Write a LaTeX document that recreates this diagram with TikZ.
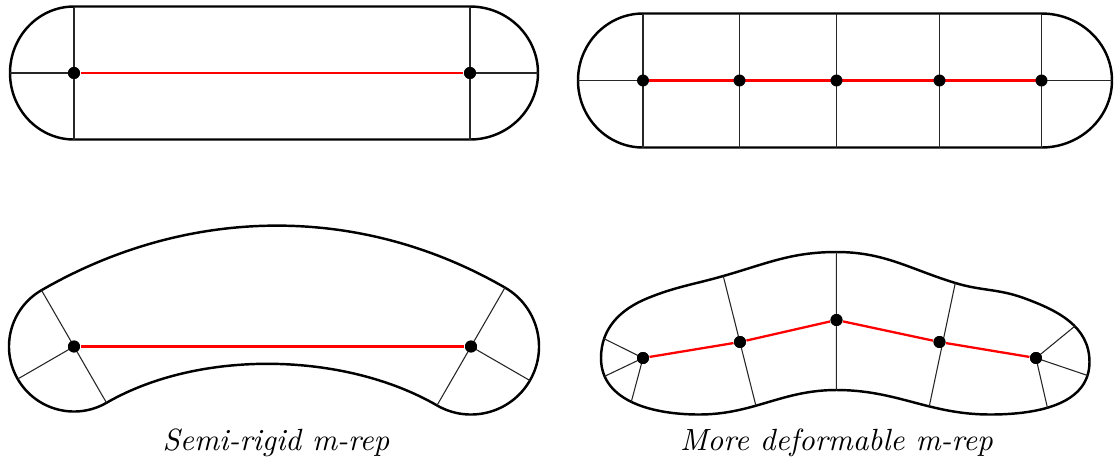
\documentclass[tikz,border=0pt]{standalone}
\usetikzlibrary{calc,intersections}
\begin{document}
\begin{tikzpicture}[x=0.326pt,y=0.326pt,
  outline/.style={line width=0.8pt,black},
  spoke/.style={line width=0.35pt,black!85},
  medial/.style={line width=0.75pt,red},
  atom/.style={circle,fill=black,inner sep=0pt,minimum size=3.9pt},
  caption/.style={font=\itshape}]
\useasboundingbox (0,0) rectangle (1115,-463);

% ---------- top left: semi-rigid straight ----------
\node[atom] (a1) at (74,-73) {};
\node[atom] (a2) at (470,-73) {};
\coordinate (a1t) at (74,-6.5);  \coordinate (a1b) at (74,-139.5);
\coordinate (a2t) at (470,-6.5); \coordinate (a2b) at (470,-139.5);
\coordinate (a1l) at (10,-73);   \coordinate (a2r) at (538,-73);
\draw[outline] (a1t) -- (a2t) arc[start angle=90,end angle=-90,x radius=68,y radius=66.5]
  -- (a1b) arc[start angle=270,end angle=90,x radius=64,y radius=66.5] -- cycle;
\draw[spoke] (a1t) -- (a1b) (a2t) -- (a2b) (a1l) -- (a1.center) (a2.center) -- (a2r);
\draw[medial] (a1) -- (a2);
\node[atom] at (a1) {}; \node[atom] at (a2) {};

% ---------- top right: deformable straight ----------
\foreach \i/\x in {1/643,2/739.5,3/836.5,4/939.5,5/1041.5}{
  \coordinate (b\i t) at (\x,-13.5);
  \coordinate (b\i b) at (\x,-147.5);
}
\coordinate (b1l) at (578,-80.5); \coordinate (b5r) at (1112,-80.5);
\draw[outline] (b1t) -- (b5t) arc[start angle=90,end angle=-90,x radius=70.5,y radius=67]
  -- (b1b) arc[start angle=270,end angle=90,x radius=65,y radius=67] -- cycle;
\foreach \i in {1,...,5}{ \draw[spoke] (b\i t) -- (b\i b); }
\draw[spoke] (b1l) -- (643,-80.5) (1041.5,-80.5) -- (b5r);
\draw[medial] (643,-80.5) -- (1041.5,-80.5);
\foreach \i/\x in {1/643,2/739.5,3/836.5,4/939.5,5/1041.5}{
  \node[atom] (b\i) at (\x,-80.5) {};
}

% ---------- bottom left: semi-rigid bent ----------
\node[atom] (c1) at (74,-346.5) {};
\node[atom] (c2) at (471,-346.5) {};
\coordinate (c1u) at ($(c1.center)+(120:65)$);
\coordinate (c1w) at ($(c1.center)+(210:65)$);
\coordinate (c1d) at ($(c1.center)+(300:65)$);
\coordinate (c2u) at ($(c2.center)+(60:68)$);
\coordinate (c2e) at ($(c2.center)+(-30:68)$);
\coordinate (c2d) at ($(c2.center)+(240:68)$);
\draw[outline] (c1u) to[out=30,in=150,looseness=0.93] (c2u)
  arc[start angle=60,end angle=-120,radius=68]
  to[out=150,in=30,looseness=0.83] (c1d)
  arc[start angle=300,end angle=120,radius=65] -- cycle;
\draw[spoke] (c1.center) -- (c1u) (c1.center) -- (c1w) (c1.center) -- (c1d)
  (c2.center) -- (c2u) (c2.center) -- (c2e) (c2.center) -- (c2d);
\draw[medial] (c1) -- (c2);
\node[atom] at (c1) {}; \node[atom] at (c2) {};

% ---------- bottom right: deformable bent ----------
\node[atom] (d1) at (643,-358) {};
\node[atom] (d2) at (740,-342) {};
\node[atom] (d3) at (836.5,-320) {};
\node[atom] (d4) at (939.5,-342) {};
\node[atom] (d5) at (1036,-358) {};
\draw[outline,name path=body] (601,-358) to[out=90,in=202] (648,-298)
  to[out=22,in=196] (723.3,-276)
  to[out=16,in=180] (836.5,-252)
  to[out=0,in=163] (955.4,-283)
  to[out=-17,in=160] (1023.7,-298)
  to[out=-20,in=90] (1089.5,-362)
  to[out=-90,in=0] (990,-414.5)
  to[out=180,in=0] (836.5,-390)
  to[out=180,in=0] (699,-414.5)
  to[out=180,in=270] (601,-358);
\foreach \n/\a/\k in {d1/153.7/1,d1/205.4/2,d1/255/3,
                      d2/104.2/1,d2/284/2,d3/90/1,d3/270/2,
                      d4/75/1,d4/261/2,
                      d5/39.3/1,d5/-18.7/2,d5/-77/3}{
  \path[name path=ray] (\n.center) -- ++(\a:120);
  \path[name intersections={of=body and ray,by={\n e\k}}];
}
\draw[spoke] (d1.center) -- (d1e1) (d1.center) -- (d1e2) (d1.center) -- (d1e3)
  (d2e1) -- (d2e2) (d3e1) -- (d3e2) (d4e1) -- (d4e2)
  (d5.center) -- (d5e1) (d5.center) -- (d5e2) (d5.center) -- (d5e3);
\draw[medial] (d1) -- (d2) -- (d3) -- (d4) -- (d5);
\foreach \i in {1,...,5}{ \node[atom] at (d\i) {}; }

% ---------- captions ----------
\node[caption] (cap1) at (276,-443) {Semi-rigid m-rep};
\node[caption] (cap2) at (836.5,-443) {More deformable m-rep};
\end{tikzpicture}
\end{document}
